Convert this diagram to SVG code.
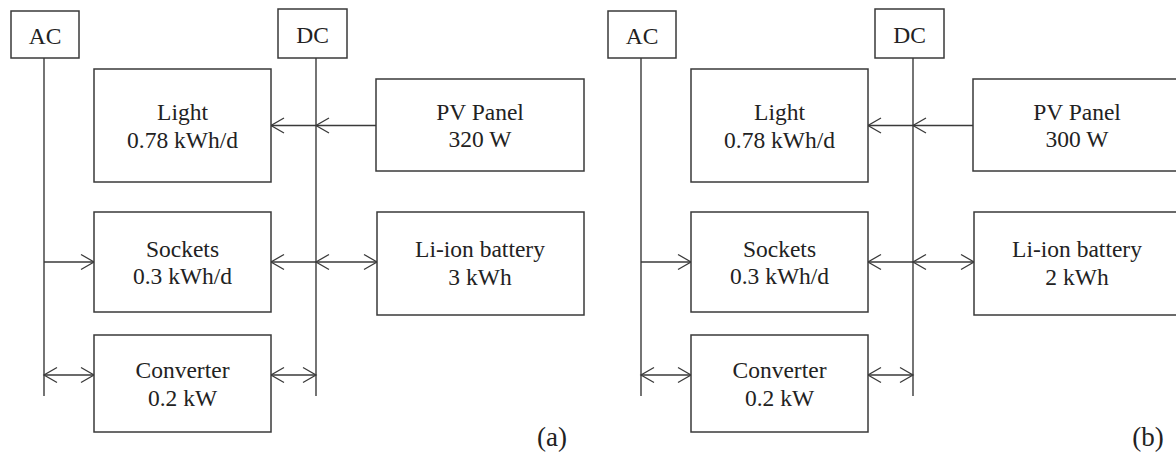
<svg xmlns="http://www.w3.org/2000/svg" width="1176" height="452" viewBox="0 0 1176 452">
<style>
.box{fill:#fff;stroke:#3a3a3a;stroke-width:1.5}
.t{font-family:'Liberation Serif','Times New Roman',serif;font-size:23.5px;fill:#222;text-anchor:middle}
.lbl{font-family:'Liberation Serif','Times New Roman',serif;font-size:27px;fill:#222;text-anchor:middle}
.bus{stroke:#3a3a3a;stroke-width:1.4;fill:none}
.c{stroke:#3a3a3a;stroke-width:1.3;fill:none}
.a1{marker-end:url(#ah)}
.a2{marker-start:url(#ah);marker-end:url(#ah)}
</style>
<defs>
<marker id="ah" markerUnits="userSpaceOnUse" markerWidth="20" markerHeight="20" viewBox="-15 -10 20 20" refX="0" refY="0" orient="auto-start-reverse" overflow="visible">
<path d="M-13,-7.5 L0,0 L-13,7.5" fill="none" stroke="#3a3a3a" stroke-width="1.3"/>
</marker>
</defs>
<rect width="1176" height="452" fill="#fff"/>

<g id="panel-a">
<g id="connectors-a">
<line class="bus" x1="44" y1="58" x2="44" y2="396"/>
<line class="bus" x1="316" y1="58" x2="316" y2="396"/>
<line class="c a1" x1="376" y1="125.5" x2="316" y2="125.5"/>
<line class="c a1" x1="316" y1="125.5" x2="271" y2="125.5"/>
<line class="c a1" x1="44" y1="262" x2="94" y2="262"/>
<line class="c a1" x1="316" y1="262" x2="271" y2="262"/>
<line class="c a2" x1="316" y1="262" x2="377" y2="262"/>
<line class="c a2" x1="44" y1="375" x2="94" y2="375"/>
<line class="c a2" x1="271" y1="375" x2="316" y2="375"/>
</g>
<g id="ac-a"><rect class="box" x="11" y="11" width="68" height="47"/><text class="t" x="45" y="44">AC</text></g>
<g id="dc-a"><rect class="box" x="278" y="9" width="69" height="49"/><text class="t" x="312.5" y="43">DC</text></g>
<g id="light-a"><rect class="box" x="94" y="69" width="177" height="113"/><text class="t" x="182.5" y="120">Light</text><text class="t" x="182.5" y="148">0.78 kWh/d</text></g>
<g id="pv-a"><rect class="box" x="376" y="79" width="208" height="92"/><text class="t" x="480" y="120">PV Panel</text><text class="t" x="480" y="147">320 W</text></g>
<g id="sockets-a"><rect class="box" x="94" y="212" width="177" height="100"/><text class="t" x="182.5" y="257">Sockets</text><text class="t" x="182.5" y="284">0.3 kWh/d</text></g>
<g id="battery-a"><rect class="box" x="377" y="212" width="207" height="103"/><text class="t" x="480" y="257">Li-ion battery</text><text class="t" x="480" y="285">3 kWh</text></g>
<g id="converter-a"><rect class="box" x="94" y="335" width="177" height="97"/><text class="t" x="182.5" y="378">Converter</text><text class="t" x="182.5" y="406">0.2 kW</text></g>
<text class="lbl" x="552" y="446">(a)</text>
</g>

<g id="panel-b" transform="translate(597,0)">
<g id="connectors-b">
<line class="bus" x1="44" y1="58" x2="44" y2="396"/>
<line class="bus" x1="316" y1="58" x2="316" y2="396"/>
<line class="c a1" x1="376" y1="125.5" x2="316" y2="125.5"/>
<line class="c a1" x1="316" y1="125.5" x2="271" y2="125.5"/>
<line class="c a1" x1="44" y1="262" x2="94" y2="262"/>
<line class="c a1" x1="316" y1="262" x2="271" y2="262"/>
<line class="c a2" x1="316" y1="262" x2="377" y2="262"/>
<line class="c a2" x1="44" y1="375" x2="94" y2="375"/>
<line class="c a2" x1="271" y1="375" x2="316" y2="375"/>
</g>
<g id="ac-b"><rect class="box" x="11" y="11" width="68" height="47"/><text class="t" x="45" y="44">AC</text></g>
<g id="dc-b"><rect class="box" x="278" y="9" width="69" height="49"/><text class="t" x="312.5" y="43">DC</text></g>
<g id="light-b"><rect class="box" x="94" y="69" width="177" height="113"/><text class="t" x="182.5" y="120">Light</text><text class="t" x="182.5" y="148">0.78 kWh/d</text></g>
<g id="pv-b"><rect class="box" x="376" y="79" width="208" height="92"/><text class="t" x="480" y="120">PV Panel</text><text class="t" x="480" y="147">300 W</text></g>
<g id="sockets-b"><rect class="box" x="94" y="212" width="177" height="100"/><text class="t" x="182.5" y="257">Sockets</text><text class="t" x="182.5" y="284">0.3 kWh/d</text></g>
<g id="battery-b"><rect class="box" x="377" y="212" width="207" height="103"/><text class="t" x="480" y="257">Li-ion battery</text><text class="t" x="480" y="285">2 kWh</text></g>
<g id="converter-b"><rect class="box" x="94" y="335" width="177" height="97"/><text class="t" x="182.5" y="378">Converter</text><text class="t" x="182.5" y="406">0.2 kW</text></g>
<text class="lbl" x="551" y="446">(b)</text>
</g>
</svg>
